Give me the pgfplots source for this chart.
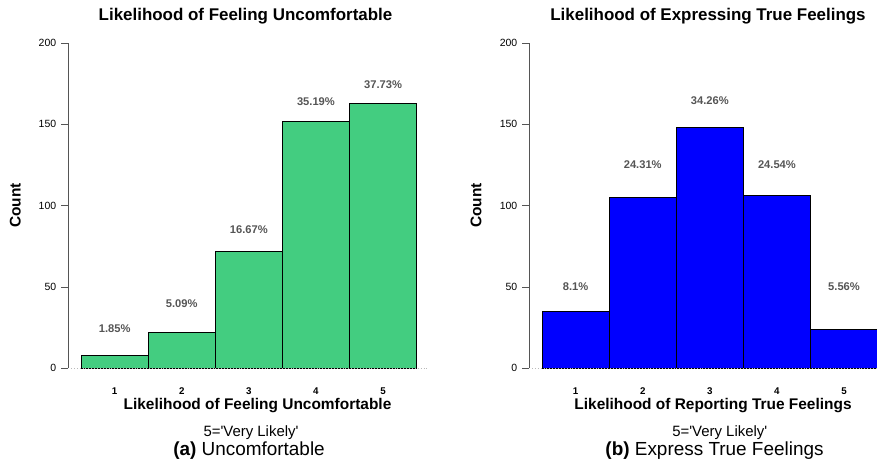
\documentclass[border=0pt]{standalone}
\usepackage{pgfplots}
\pgfplotsset{compat=1.18}
\usepackage{fontspec}
\setmainfont{Liberation Sans}

\definecolor{barGreen}{HTML}{43CD80}
\definecolor{barBlue}{HTML}{0000FF}
\definecolor{pctGray}{HTML}{555555}
\definecolor{axisGray}{HTML}{555555}

% counts per response level
\pgfplotstableread{
x y
1 8
2 22
3 72
4 152
5 163
}\uncomf
\pgfplotstableread{
x y
1 35
2 105
3 148
4 106
5 24
}\express
% percentage labels: level, label height, share
\pgfplotstableread{
x y p
1 24.6 1.85
2 40 5.09
3 85 16.67
4 164 35.19
5 174.5 37.73
}\uncomfpct
\pgfplotstableread{
x y p
1 50.2 8.1
2 125 24.31
3 164.5 34.26
4 125 24.54
5 50.2 5.56
}\expresspct

\pgfplotsset{
  histpanel/.style={
    scale only axis, width=360bp, height=325.3bp,
    xmin=0.305, xmax=5.67, ymin=0, ymax=200,
    axis x line*=bottom, axis y line*=left,
    x axis line style={draw=none},
    y axis line style={axisGray, line width=0.9pt, -},
    xtick={1,2,3,4,5},
    major x tick style={draw=none},
    xticklabel style={font=\fontsize{9.8}{11}\bfseries, inner sep=0pt, yshift=-13bp},
    ytick={0,50,100,150,200},
    tick align=outside, major tick length=6.6bp,
    major y tick style={axisGray, line width=0.9pt},
    yticklabel style={font=\fontsize{10.5}{12}\selectfont, inner sep=0pt, xshift=-5bp},
    /pgf/number format/assume math mode=true,
    clip=false,
  },
  histbars/.style={ybar, bar width=1, draw=black, line width=0.9pt},
  baseline0/.style={gray!55, dotted, line width=0.9pt},
  pctlabels/.style={draw=none, mark=none, point meta=explicit symbolic,
    nodes near coords={\pgfplotspointmeta\%},
    nodes near coords style={anchor=center, inner sep=0pt, text=pctGray,
      font=\fontsize{11.2}{13}\bfseries}},
}

\begin{document}
\begin{tikzpicture}
\path[use as bounding box] (0,0) rectangle (877bp,-465bp);

\begin{axis}[histpanel, at={(68bp,-368.3bp)}, anchor=south west]
  \addplot[histbars, fill=barGreen] table[x=x, y=y] {\uncomf};
  \addplot[baseline0] coordinates {(0.35,0) (5.67,0)};
  \addplot[pctlabels] table[x=x, y=y, meta=p] {\uncomfpct};
\end{axis}

\begin{axis}[histpanel, at={(529bp,-368.3bp)}, anchor=south west]
  \addplot[histbars, fill=barBlue] table[x=x, y=y] {\express};
  \addplot[baseline0] coordinates {(0.35,0) (5.8,0)};
  \addplot[pctlabels] table[x=x, y=y, meta=p] {\expresspct};
\end{axis}

% titles
\node[anchor=base, font=\fontsize{17}{20}\bfseries, inner sep=0pt]
  at (245.5bp,-20.7bp) {Likelihood of Feeling Uncomfortable};
\node[anchor=base, font=\fontsize{17}{20}\bfseries, inner sep=0pt]
  at (708bp,-20.7bp) {Likelihood of Expressing True Feelings};

% y labels
\node[rotate=90, font=\fontsize{15.5}{18}\bfseries, inner sep=0pt]
  at (15.3bp,-205.7bp) {Count};
\node[rotate=90, font=\fontsize{15.5}{18}\bfseries, inner sep=0pt]
  at (476bp,-205.7bp) {Count};

% x labels
\node[anchor=base, font=\fontsize{15.5}{18}\bfseries, inner sep=0pt]
  at (257.5bp,-409.3bp) {Likelihood of Feeling Uncomfortable};
\node[anchor=base, font=\fontsize{15.5}{18}\bfseries, inner sep=0pt]
  at (713bp,-409.3bp) {Likelihood of Reporting True Feelings};

% scale notes
\node[anchor=base, font=\fontsize{15}{18}\selectfont, inner sep=0pt]
  at (251bp,-436bp) {5=\textquotesingle Very Likely\textquotesingle};
\node[anchor=base, font=\fontsize{15}{18}\selectfont, inner sep=0pt]
  at (719.8bp,-436bp) {5=\textquotesingle Very Likely\textquotesingle};

% sub-captions
\node[anchor=base, font=\fontsize{19}{22}\selectfont, inner sep=0pt]
  at (249bp,-455.7bp) {\textbf{(a)} Uncomfortable};
\node[anchor=base, font=\fontsize{19}{22}\selectfont, inner sep=0pt]
  at (714.5bp,-455.7bp) {\textbf{(b)} Express True Feelings};
\end{tikzpicture}
\end{document}
